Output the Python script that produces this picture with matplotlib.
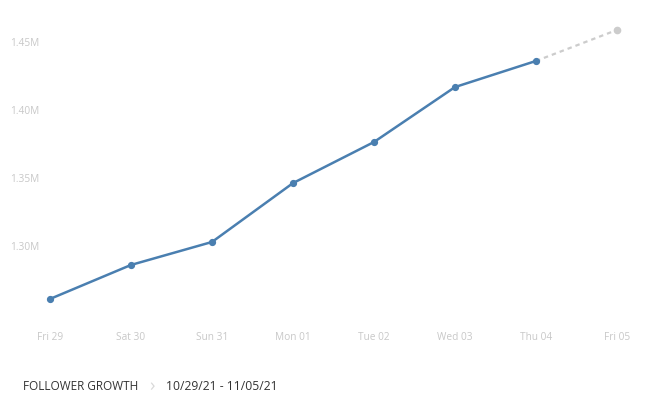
import matplotlib
matplotlib.use("Agg")
import matplotlib.pyplot as plt
import matplotlib.transforms as mtransforms

days = ["Fri 29", "Sat 30", "Sun 31", "Mon 01", "Tue 02", "Wed 03", "Thu 04", "Fri 05"]
followers = [1.2618, 1.2868, 1.3037, 1.3470, 1.3772, 1.4176, 1.4368]
forecast = [1.4368, 1.4596]
ytick_vals = [1.30, 1.35, 1.40, 1.45]
ytick_labels = ["1.30M", "1.35M", "1.40M", "1.45M"]
title = "FOLLOWER GROWTH"
date_range = "10/29/21 - 11/05/21"

plt.rcParams['font.family'] = ['Open Sans', 'DejaVu Sans']

W, H = 664, 403
fig = plt.figure(figsize=(W / 100, H / 100), dpi=100)
ax = fig.add_axes([0, 0, 1, 1])
ax.set_axis_off()

px_per_x = 81.0
x0 = 50.0
ax.set_xlim(-x0 / px_per_x, (W - x0) / px_per_x)
px_per_y = 1360.0
y_ref_px = 247.0  # pixel row of 1.30M from top
ax.set_ylim(1.30 - (H - y_ref_px) / px_per_y, 1.30 + y_ref_px / px_per_y)

xs = list(range(len(followers)))
ax.plot(xs, followers, color="#4a7fb0", lw=1.8, marker="o", ms=4.2, zorder=3,
        solid_capstyle="round")
fx = [len(followers) - 1, len(followers)]
ax.plot(fx, forecast, color="#cccccc", lw=1.6, ls=(0, (2.0, 1.8)), zorder=2)
ax.plot([fx[1]], [forecast[1]], marker="o", ms=4.5, color="#cccccc", zorder=2)

# y tick labels
tr_y = mtransforms.blended_transform_factory(fig.transFigure, ax.transData)
for v, lab in zip(ytick_vals, ytick_labels):
    ax.text(10 / W, v, lab, transform=tr_y, ha="left", va="center",
            fontsize=7.3, color="#c8c8c8")

# x tick labels
tr_x = mtransforms.blended_transform_factory(ax.transData, fig.transFigure)
for i, d in enumerate(days):
    ax.text(i, 1 - 338 / H, d, transform=tr_x, ha="center", va="center",
            fontsize=7.3, color="#c8c8c8")

# footer
fig.text(23 / W, 1 - 387 / H, title, ha="left", va="center", fontsize=8.5, color="#333333")
fig.text(152 / W, 1 - 386 / H, "\u203a", ha="center", va="center", fontsize=13, color="#d8d8d8")
fig.text(166 / W, 1 - 386 / H, date_range, ha="left", va="center", fontsize=8.7, color="#333333")

fig.savefig("out.png", dpi=100, facecolor="white")
